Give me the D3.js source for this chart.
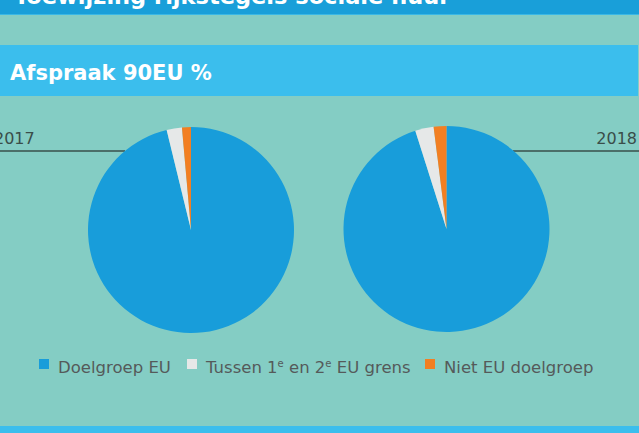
<!DOCTYPE html>
<html>
<head>
<meta charset="utf-8">
<script src="https://cdn.jsdelivr.net/npm/d3@7"></script>
<style>
  body { margin: 0; background: #84cdc4; }
  svg { display: block; }
</style>
</head>
<body>
<div id="Canvas"></div>
<script>
// data
const years = ["2017", "2018"]
const categories = ["Doelgroep EU", "Tussen 1e en 2e EU grens", "Niet EU doelgroep"]
const values2017 = [96.2, 2.4, 1.4]
const values2018 = [95.1, 2.9, 2.0]
const colors = ["#189dda", "#e6e8e8", "#f27f22"]

const W = 639, H = 433
const FONT = "'DejaVu Sans', sans-serif"
let svg = d3.select("#Canvas")
    .append("svg")
    .attr("width", W)
    .attr("height", H)

svg.append("rect").attr("width", W).attr("height", H).attr("fill", "#84cdc4")

// top bar (header is cut off at top)
svg.append("rect").attr("x", 0).attr("y", 0).attr("width", W).attr("height", 15).attr("fill", "#199fd9")
svg.append("rect").attr("x", 0).attr("y", 14).attr("width", W).attr("height", 1).attr("fill", "#3ab8e6")
svg.append("text")
    .attr("x", 14).attr("y", 4)
    .attr("fill", "#fff")
    .style("font", "bold 22.5px " + FONT)
    .text("Toewijzing rijkstegels sociale huur")

// title band
svg.append("rect").attr("x", 0).attr("y", 45).attr("width", 638).attr("height", 51).attr("fill", "#3bbeed")
svg.append("text")
    .attr("x", 10).attr("y", 80)
    .attr("fill", "#fff")
    .style("font", "bold 21px " + FONT)
    .text("Afspraak 90EU %")

// bottom band
svg.append("rect").attr("x", 0).attr("y", 426).attr("width", W).attr("height", 7).attr("fill", "#3bbeed")

// jaartal + lijn
svg.append("line").attr("x1", 0).attr("x2", 125).attr("y1", 151).attr("y2", 151)
    .attr("stroke", "#4b6f69").attr("stroke-width", 2)
svg.append("line").attr("x1", 513).attr("x2", 639).attr("y1", 151).attr("y2", 151)
    .attr("stroke", "#4b6f69").attr("stroke-width", 2)
svg.append("text").attr("x", -6).attr("y", 144)
    .attr("fill", "#3a4d4a").style("font", "16px " + FONT).text(years[0])
svg.append("text").attr("x", 637).attr("y", 144).attr("text-anchor", "end")
    .attr("fill", "#3a4d4a").style("font", "16px " + FONT).text(years[1])

// pies
let pie = d3.pie().sort(null).value(d => d)
let arc = d3.arc().innerRadius(0).outerRadius(103)
let pieData = [
    {vals: values2017, cx: 191, cy: 230},
    {vals: values2018, cx: 446.5, cy: 229}
]
pieData.forEach(p => {
    svg.append("g")
        .attr("transform", `translate(${p.cx},${p.cy})`)
        .selectAll("path")
        .data(pie(p.vals))
        .enter()
        .append("path")
        .attr("d", arc)
        .attr("fill", (d, i) => colors[i])
})

// legend
let legendX = [39, 187, 425]
let lg = svg.append("g")
categories.forEach((c, i) => {
    lg.append("rect").attr("x", legendX[i]).attr("y", 359).attr("width", 10).attr("height", 10)
        .attr("fill", colors[i])
    let t = lg.append("text").attr("x", legendX[i] + 19).attr("y", 373)
        .attr("fill", "#555a5a").style("font", "16.5px " + FONT)
    if (i == 1) {
        // superscript e
        t.append("tspan").text("Tussen 1")
        t.append("tspan").attr("dy", -6).style("font-size", "10px").text("e")
        t.append("tspan").attr("dy", 6).text(" en 2")
        t.append("tspan").attr("dy", -6).style("font-size", "10px").text("e")
        t.append("tspan").attr("dy", 6).text(" EU grens")
    } else {
        t.text(c)
    }
})
</script>
</body>
</html>
